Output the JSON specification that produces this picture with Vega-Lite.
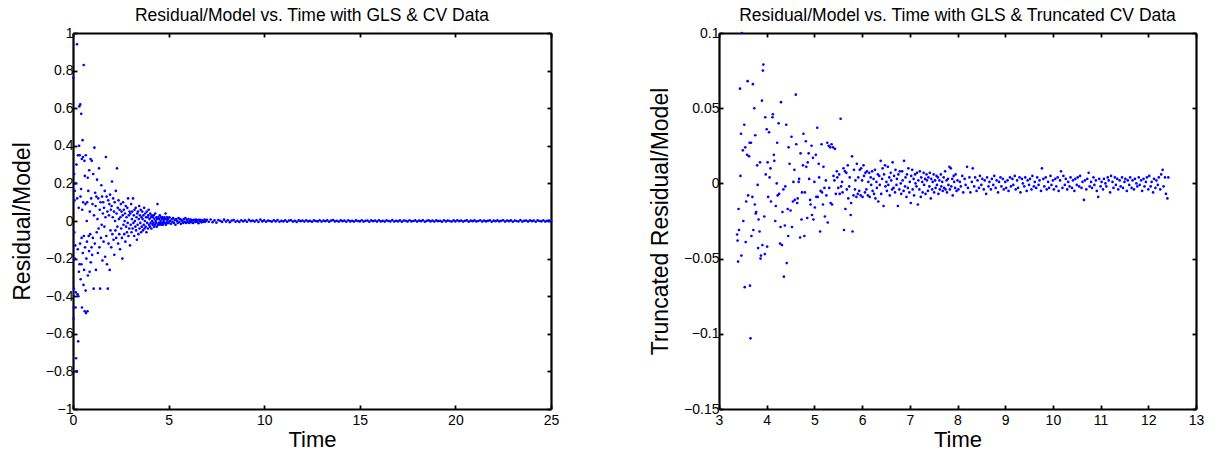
{
  "$schema": "https://vega.github.io/schema/vega-lite/v6.json",
  "background": "white",
  "padding": {"left": 11, "top": 6, "right": 5, "bottom": 0},
  "spacing": 90,
  "config": {
    "view": {"stroke": null},
    "axis": {
      "domain": true, "domainColor": "black", "domainWidth": 2.2, "grid": false,
      "tickSize": -4, "tickColor": "black", "tickWidth": 1.8,
      "labelFont": "Liberation Sans", "labelFontSize": 14, "labelColor": "black",
      "labelPadding": 4, "labelFlush": false, "labelOverlap": false,
      "titleFont": "Liberation Sans", "titleFontSize": 23, "titleFontWeight": "normal", "titleColor": "black"
    },
    "axisBottom": {"labelPadding": 8, "titleFontSize": 22},
    "title": {"font": "Liberation Sans", "fontSize": 17.5, "fontWeight": "normal", "color": "black", "anchor": "middle", "frame": "group", "offset": 2}
  },
  "datasets": {
    "full": [
      {"t":0.02,"r":0.76},{"t":0.03,"r":-0.52},{"t":0.04,"r":-0.46},{"t":0.05,"r":-0.36},{"t":0.06,"r":0.25},{"t":0.07,"r":-0.06},{"t":0.08,"r":0.11},{"t":0.09,"r":0.16},{"t":0.1,"r":-0.2},{"t":0.12,"r":-0.13},{"t":0.13,"r":0.2},{"t":0.14,"r":-0.46},{"t":0.15,"r":-0.38},{"t":0.16,"r":-0.73},{"t":0.18,"r":0.3},{"t":0.19,"r":-0.8},{"t":0.2,"r":-0.8},{"t":0.21,"r":0.94},{"t":0.22,"r":0.12},{"t":0.24,"r":-0.39},{"t":0.25,"r":-0.15},{"t":0.26,"r":0.35},{"t":0.27,"r":-0.64},{"t":0.28,"r":-0.4},{"t":0.3,"r":0.07},{"t":0.31,"r":-0.27},{"t":0.32,"r":0.4},{"t":0.33,"r":0.61},{"t":0.34,"r":-0.23},{"t":0.35,"r":0.35},{"t":0.37,"r":-0.12},{"t":0.38,"r":0.62},{"t":0.39,"r":0.13},{"t":0.4,"r":-0.31},{"t":0.42,"r":0.17},{"t":0.43,"r":0.57},{"t":0.44,"r":-0.23},{"t":0.45,"r":-0.09},{"t":0.46,"r":0.33},{"t":0.47,"r":-0.46},{"t":0.48,"r":0.06},{"t":0.5,"r":0.43},{"t":0.51,"r":-0.17},{"t":0.52,"r":0.34},{"t":0.53,"r":0.1},{"t":0.55,"r":-0.34},{"t":0.56,"r":0.83},{"t":0.57,"r":-0.08},{"t":0.58,"r":-0.26},{"t":0.6,"r":0.32},{"t":0.61,"r":-0.48},{"t":0.62,"r":0.24},{"t":0.63,"r":-0.14},{"t":0.65,"r":0.09},{"t":0.66,"r":-0.37},{"t":0.67,"r":0.35},{"t":0.68,"r":-0.49},{"t":0.7,"r":-0.2},{"t":0.72,"r":0.0},{"t":0.73,"r":-0.11},{"t":0.74,"r":0.1},{"t":0.76,"r":-0.48},{"t":0.77,"r":0.23},{"t":0.78,"r":-0.29},{"t":0.8,"r":0.16},{"t":0.82,"r":-0.08},{"t":0.84,"r":-0.16},{"t":0.85,"r":0.27},{"t":0.87,"r":-0.27},{"t":0.88,"r":0.05},{"t":0.9,"r":-0.07},{"t":0.92,"r":0.33},{"t":0.93,"r":-0.22},{"t":0.95,"r":0.12},{"t":0.97,"r":-0.14},{"t":0.98,"r":0.32},
      {"t":1.0,"r":-0.18},{"t":1.02,"r":0.09},{"t":1.04,"r":-0.09},{"t":1.06,"r":0.25},{"t":1.08,"r":-0.36},{"t":1.1,"r":0.03},{"t":1.12,"r":0.39},{"t":1.14,"r":-0.12},{"t":1.16,"r":0.15},{"t":1.18,"r":0.08},{"t":1.2,"r":-0.26},{"t":1.22,"r":0.13},{"t":1.24,"r":-0.06},{"t":1.26,"r":0.22},{"t":1.28,"r":0.01},{"t":1.3,"r":-0.17},{"t":1.32,"r":0.12},{"t":1.34,"r":-0.04},{"t":1.36,"r":0.28},{"t":1.38,"r":-0.14},{"t":1.4,"r":0.06},{"t":1.42,"r":-0.36},{"t":1.44,"r":0.1},{"t":1.46,"r":-0.09},{"t":1.48,"r":0.19},{"t":1.5,"r":-0.02},{"t":1.52,"r":0.13},{"t":1.54,"r":-0.21},{"t":1.56,"r":0.04},{"t":1.58,"r":0.1},{"t":1.6,"r":-0.11},{"t":1.62,"r":0.07},{"t":1.64,"r":-0.03},{"t":1.66,"r":0.16},{"t":1.68,"r":-0.19},{"t":1.7,"r":0.02},{"t":1.72,"r":0.34},{"t":1.74,"r":-0.08},{"t":1.76,"r":0.13},{"t":1.78,"r":-0.23},{"t":1.8,"r":0.05},{"t":1.82,"r":-0.36},{"t":1.84,"r":0.11},{"t":1.86,"r":-0.12},{"t":1.88,"r":0.03},{"t":1.9,"r":0.09},{"t":1.92,"r":-0.26},{"t":1.94,"r":0.14},{"t":1.96,"r":-0.05},{"t":1.98,"r":0.06},
      {"t":2.0,"r":-0.14},{"t":2.02,"r":0.08},{"t":2.04,"r":0.21},{"t":2.06,"r":-0.07},{"t":2.08,"r":0.02},{"t":2.1,"r":0.12},{"t":2.12,"r":-0.1},{"t":2.14,"r":0.05},{"t":2.16,"r":-0.18},{"t":2.18,"r":0.1},{"t":2.2,"r":0.0},{"t":2.22,"r":-0.05},{"t":2.24,"r":0.16},{"t":2.26,"r":-0.09},{"t":2.28,"r":0.04},{"t":2.3,"r":0.28},{"t":2.32,"r":-0.03},{"t":2.34,"r":0.07},{"t":2.36,"r":-0.12},{"t":2.38,"r":0.11},{"t":2.4,"r":0.01},{"t":2.42,"r":-0.07},{"t":2.44,"r":0.06},{"t":2.46,"r":-0.15},{"t":2.48,"r":0.02},{"t":2.5,"r":0.09},{"t":2.52,"r":-0.04},{"t":2.54,"r":0.05},{"t":2.56,"r":-0.09},{"t":2.58,"r":-0.2},{"t":2.6,"r":0.03},{"t":2.62,"r":0.1},{"t":2.64,"r":-0.02},{"t":2.66,"r":0.06},{"t":2.68,"r":-0.07},{"t":2.7,"r":0.0},{"t":2.72,"r":0.04},{"t":2.74,"r":-0.11},{"t":2.76,"r":0.08},{"t":2.78,"r":-0.03},{"t":2.8,"r":0.02},{"t":2.82,"r":-0.06},{"t":2.84,"r":0.07},{"t":2.86,"r":-0.01},{"t":2.88,"r":0.12},{"t":2.9,"r":-0.08},{"t":2.92,"r":0.03},{"t":2.94,"r":-0.04},{"t":2.96,"r":0.05},{"t":2.98,"r":-0.13},
      {"t":3.0,"r":0.04},{"t":3.02,"r":-0.02},{"t":3.04,"r":0.09},{"t":3.06,"r":-0.06},{"t":3.08,"r":0.01},{"t":3.1,"r":0.05},{"t":3.12,"r":-0.04},{"t":3.14,"r":0.12},{"t":3.16,"r":-0.01},{"t":3.18,"r":0.03},{"t":3.2,"r":-0.08},{"t":3.22,"r":0.06},{"t":3.24,"r":0.0},{"t":3.26,"r":-0.03},{"t":3.28,"r":0.07},{"t":3.3,"r":-0.05},{"t":3.32,"r":0.02},{"t":3.34,"r":-0.1},{"t":3.36,"r":0.04},{"t":3.38,"r":-0.02},{"t":3.4,"r":0.05},{"t":3.42,"r":-0.07},{"t":3.44,"r":0.01},{"t":3.46,"r":0.08},{"t":3.48,"r":-0.04},{"t":3.5,"r":0.03},{"t":3.52,"r":-0.01},{"t":3.54,"r":0.06},{"t":3.56,"r":-0.06},{"t":3.58,"r":0.02},{"t":3.6,"r":-0.03},{"t":3.62,"r":0.05},{"t":3.64,"r":0.01},{"t":3.66,"r":-0.05},{"t":3.68,"r":0.03},{"t":3.7,"r":-0.02},{"t":3.72,"r":0.07},{"t":3.74,"r":-0.04},{"t":3.76,"r":0.0},{"t":3.78,"r":0.04},{"t":3.8,"r":-0.03},{"t":3.82,"r":0.02},{"t":3.84,"r":-0.06},{"t":3.86,"r":0.05},{"t":3.88,"r":-0.01},{"t":3.9,"r":0.02},{"t":3.92,"r":-0.04},{"t":3.94,"r":0.03},{"t":3.96,"r":0.06},{"t":3.98,"r":-0.02},
      {"t":4.0,"r":0.01},{"t":4.02,"r":-0.03},{"t":4.04,"r":0.04},{"t":4.06,"r":-0.01},{"t":4.08,"r":0.02},{"t":4.1,"r":-0.04},{"t":4.12,"r":0.03},{"t":4.14,"r":0.0},{"t":4.16,"r":-0.02},{"t":4.18,"r":0.02},{"t":4.2,"r":-0.01},{"t":4.22,"r":0.03},{"t":4.24,"r":-0.03},{"t":4.26,"r":0.01},{"t":4.28,"r":-0.02},{"t":4.3,"r":0.04},{"t":4.32,"r":0.0},{"t":4.34,"r":-0.01},{"t":4.36,"r":0.02},{"t":4.38,"r":-0.03},{"t":4.4,"r":0.01},{"t":4.42,"r":0.09},{"t":4.44,"r":-0.02},{"t":4.46,"r":0.02},{"t":4.48,"r":-0.01},{"t":4.5,"r":0.01},{"t":4.52,"r":-0.02},{"t":4.54,"r":0.03},{"t":4.56,"r":-0.01},{"t":4.58,"r":0.0},{"t":4.6,"r":0.02},{"t":4.62,"r":-0.02},{"t":4.64,"r":0.01},{"t":4.66,"r":-0.01},{"t":4.68,"r":0.02},{"t":4.7,"r":-0.02},{"t":4.72,"r":0.01},{"t":4.74,"r":0.0},{"t":4.76,"r":-0.01},{"t":4.78,"r":0.02},{"t":4.8,"r":-0.01},{"t":4.82,"r":0.01},{"t":4.84,"r":0.04},{"t":4.86,"r":-0.02},{"t":4.88,"r":0.01},{"t":4.9,"r":-0.01},{"t":4.92,"r":0.02},{"t":4.94,"r":0.0},{"t":4.96,"r":-0.01},{"t":4.98,"r":0.01},
      {"t":5.0,"r":-0.01},{"t":5.04,"r":0.02},{"t":5.08,"r":0.0},{"t":5.12,"r":-0.015},{"t":5.16,"r":0.01},{"t":5.2,"r":-0.005},{"t":5.24,"r":0.015},{"t":5.28,"r":-0.01},{"t":5.32,"r":0.005},{"t":5.36,"r":-0.02},{"t":5.4,"r":0.01},{"t":5.44,"r":0.0},{"t":5.48,"r":-0.01},{"t":5.52,"r":0.015},{"t":5.56,"r":-0.005},{"t":5.6,"r":0.01},{"t":5.64,"r":-0.015},{"t":5.68,"r":0.005},{"t":5.72,"r":0.0},{"t":5.76,"r":-0.01},{"t":5.8,"r":0.01},{"t":5.84,"r":-0.005},{"t":5.88,"r":0.015},{"t":5.92,"r":-0.01},{"t":5.96,"r":0.005},{"t":6.0,"r":-0.005},{"t":6.04,"r":0.01},{"t":6.08,"r":-0.01},{"t":6.12,"r":0.0},{"t":6.16,"r":0.008},{"t":6.2,"r":-0.006},{"t":6.24,"r":0.004},{"t":6.28,"r":-0.01},{"t":6.32,"r":0.006},{"t":6.36,"r":0.0},{"t":6.4,"r":-0.005},{"t":6.44,"r":0.008},{"t":6.48,"r":-0.004},{"t":6.52,"r":0.003},{"t":6.56,"r":-0.012},{"t":6.6,"r":0.006},{"t":6.64,"r":-0.002},{"t":6.68,"r":0.005},{"t":6.72,"r":-0.007},{"t":6.76,"r":0.004},{"t":6.8,"r":0.0},{"t":6.84,"r":-0.005},{"t":6.88,"r":0.007},{"t":6.92,"r":-0.003},{"t":6.96,"r":0.002},
      {"t":7.0,"r":0.006},{"t":7.1,"r":-0.004},{"t":7.2,"r":0.008},{"t":7.3,"r":-0.006},{"t":7.4,"r":0.003},{"t":7.5,"r":-0.009},{"t":7.6,"r":0.005},{"t":7.7,"r":0.001},{"t":7.8,"r":-0.005},{"t":7.9,"r":0.007},{"t":8.0,"r":-0.003},{"t":8.1,"r":0.004},{"t":8.2,"r":-0.006},{"t":8.3,"r":0.002},{"t":8.4,"r":0.005},{"t":8.5,"r":-0.004},{"t":8.6,"r":0.001},{"t":8.7,"r":-0.005},{"t":8.8,"r":0.004},{"t":8.9,"r":-0.002},{"t":9.0,"r":0.003},{"t":9.1,"r":-0.004},{"t":9.2,"r":0.006},{"t":9.3,"r":-0.001},{"t":9.4,"r":0.002},{"t":9.5,"r":-0.003},{"t":9.6,"r":0.004},{"t":9.7,"r":-0.005},{"t":9.8,"r":0.007},{"t":9.9,"r":-0.002},{"t":10.0,"r":0.003},{"t":10.1,"r":-0.004},{"t":10.2,"r":0.002},{"t":10.3,"r":0.0},{"t":10.4,"r":-0.003},{"t":10.5,"r":0.004},{"t":10.6,"r":-0.002},{"t":10.7,"r":0.005},{"t":10.8,"r":-0.004},{"t":10.9,"r":0.001},{"t":11.0,"r":-0.002},{"t":11.1,"r":0.003},{"t":11.2,"r":-0.004},{"t":11.3,"r":0.002},{"t":11.4,"r":0.004},{"t":11.5,"r":-0.003},{"t":11.6,"r":0.001},{"t":11.7,"r":-0.005},{"t":11.8,"r":0.003},{"t":11.9,"r":-0.001},{"t":12.0,"r":0.002},{"t":12.1,"r":-0.003},{"t":12.2,"r":0.004},{"t":12.3,"r":-0.002},{"t":12.4,"r":0.001},{"t":12.5,"r":-0.004},{"t":12.6,"r":0.003},{"t":12.7,"r":0.0},{"t":12.8,"r":-0.002},{"t":12.9,"r":0.004},{"t":13.0,"r":-0.003},{"t":13.1,"r":0.002},{"t":13.2,"r":-0.001},{"t":13.3,"r":0.003},{"t":13.4,"r":-0.004},{"t":13.5,"r":0.002},{"t":13.6,"r":0.005},{"t":13.7,"r":-0.002},{"t":13.8,"r":0.001},{"t":13.9,"r":-0.003},{"t":14.0,"r":0.003},{"t":14.1,"r":-0.001},{"t":14.2,"r":0.002},{"t":14.3,"r":-0.004},{"t":14.4,"r":0.004},{"t":14.5,"r":-0.002},{"t":14.6,"r":0.001},{"t":14.7,"r":-0.003},{"t":14.8,"r":0.003},{"t":14.9,"r":0.0},{"t":15.0,"r":-0.002},{"t":15.1,"r":0.004},{"t":15.2,"r":-0.003},{"t":15.3,"r":0.001},{"t":15.4,"r":0.002},{"t":15.5,"r":-0.004},{"t":15.6,"r":0.003},{"t":15.7,"r":-0.001},{"t":15.8,"r":0.002},{"t":15.9,"r":-0.003},{"t":16.0,"r":0.004},{"t":16.1,"r":-0.002},{"t":16.2,"r":0.001},{"t":16.3,"r":-0.003},{"t":16.4,"r":0.003},{"t":16.5,"r":0.0},{"t":16.6,"r":-0.002},{"t":16.7,"r":0.005},{"t":16.8,"r":-0.003},{"t":16.9,"r":0.001},{"t":17.0,"r":-0.002},{"t":17.1,"r":0.003},{"t":17.2,"r":-0.004},{"t":17.3,"r":0.002},{"t":17.4,"r":0.001},{"t":17.5,"r":-0.003},{"t":17.6,"r":0.004},{"t":17.7,"r":-0.002},{"t":17.8,"r":0.0},{"t":17.9,"r":0.003},{"t":18.0,"r":-0.003},{"t":18.1,"r":0.002},{"t":18.2,"r":-0.001},{"t":18.3,"r":0.004},{"t":18.4,"r":-0.004},{"t":18.5,"r":0.001},{"t":18.6,"r":0.003},{"t":18.7,"r":-0.002},{"t":18.8,"r":0.002},{"t":18.9,"r":-0.003},{"t":19.0,"r":0.003},{"t":19.1,"r":-0.001},{"t":19.2,"r":0.001},{"t":19.3,"r":-0.004},{"t":19.4,"r":0.004},{"t":19.5,"r":-0.002},{"t":19.6,"r":0.002},{"t":19.7,"r":0.0},{"t":19.8,"r":-0.003},{"t":19.9,"r":0.003},{"t":20.0,"r":-0.002},{"t":20.1,"r":0.004},{"t":20.2,"r":-0.001},{"t":20.3,"r":0.002},{"t":20.4,"r":-0.003},{"t":20.5,"r":0.001},{"t":20.6,"r":0.003},{"t":20.7,"r":-0.004},{"t":20.8,"r":0.002},{"t":20.9,"r":-0.001},{"t":21.0,"r":0.003},{"t":21.1,"r":-0.002},{"t":21.2,"r":0.0},{"t":21.3,"r":0.004},{"t":21.4,"r":-0.003},{"t":21.5,"r":0.002},{"t":21.6,"r":-0.002},{"t":21.7,"r":0.001},{"t":21.8,"r":0.003},{"t":21.9,"r":-0.004},{"t":22.0,"r":0.002},{"t":22.1,"r":-0.001},{"t":22.2,"r":0.003},{"t":22.3,"r":-0.002},{"t":22.4,"r":0.001},{"t":22.5,"r":0.004},{"t":22.6,"r":-0.003},{"t":22.7,"r":0.002},{"t":22.8,"r":-0.001},{"t":22.9,"r":0.003},{"t":23.0,"r":-0.004},{"t":23.1,"r":0.002},{"t":23.2,"r":0.0},{"t":23.3,"r":-0.002},{"t":23.4,"r":0.005},{"t":23.5,"r":-0.003},{"t":23.6,"r":0.001},{"t":23.7,"r":0.002},{"t":23.8,"r":-0.003},{"t":23.9,"r":0.003},{"t":24.0,"r":-0.001},{"t":24.1,"r":0.002},{"t":24.2,"r":-0.004},{"t":24.3,"r":0.003},{"t":24.4,"r":0.0},{"t":24.5,"r":-0.002},{"t":24.6,"r":0.004},{"t":24.7,"r":-0.003},{"t":24.8,"r":0.001},{"t":24.9,"r":0.002},{"t":25.0,"r":-0.001}
    ],
    "trunc": [
      {"t":3.38,"r":-0.034},{"t":3.39,"r":-0.038},{"t":3.4,"r":-0.052},{"t":3.41,"r":-0.017},{"t":3.42,"r":-0.031},{"t":3.44,"r":0.063},{"t":3.45,"r":0.005},{"t":3.46,"r":0.033},{"t":3.47,"r":-0.048},{"t":3.48,"r":0.1},{"t":3.5,"r":0.022},{"t":3.51,"r":-0.025},{"t":3.53,"r":0.039},{"t":3.54,"r":-0.069},{"t":3.55,"r":0.024},{"t":3.56,"r":-0.039},{"t":3.57,"r":-0.012},{"t":3.59,"r":0.019},{"t":3.6,"r":0.068},{"t":3.61,"r":-0.008},{"t":3.63,"r":0.018},{"t":3.64,"r":0.027},{"t":3.65,"r":-0.068},{"t":3.66,"r":-0.103},{"t":3.67,"r":0.027},{"t":3.68,"r":-0.035},{"t":3.7,"r":-0.009},{"t":3.71,"r":0.066},{"t":3.72,"r":-0.031},{"t":3.74,"r":0.05},{"t":3.75,"r":-0.014},{"t":3.76,"r":0.032},{"t":3.77,"r":-0.02},{"t":3.78,"r":-0.019},{"t":3.8,"r":0.012},{"t":3.81,"r":-0.001},{"t":3.82,"r":-0.043},{"t":3.83,"r":-0.024},{"t":3.85,"r":-0.032},{"t":3.86,"r":0.014},{"t":3.87,"r":-0.05},{"t":3.88,"r":-0.048},{"t":3.9,"r":0.055},{"t":3.91,"r":-0.041},{"t":3.92,"r":0.075},{"t":3.93,"r":0.079},{"t":3.95,"r":-0.022},{"t":3.96,"r":-0.047},{"t":3.97,"r":0.044},{"t":3.98,"r":0.006},{"t":4.0,"r":0.036},{"t":4.01,"r":-0.042},{"t":4.02,"r":0.014},{"t":4.03,"r":-0.009},{"t":4.05,"r":0.034},{"t":4.06,"r":0.004},{"t":4.08,"r":0.01},{"t":4.09,"r":-0.012},{"t":4.12,"r":0.044},{"t":4.13,"r":0.046},{"t":4.15,"r":0.019},{"t":4.16,"r":0.015},{"t":4.18,"r":-0.025},{"t":4.19,"r":-0.015},{"t":4.21,"r":0.0},{"t":4.22,"r":0.027},{"t":4.23,"r":-0.008},{"t":4.25,"r":0.04},{"t":4.26,"r":-0.007},{"t":4.28,"r":-0.04},{"t":4.29,"r":-0.029},{"t":4.3,"r":0.054},{"t":4.32,"r":-0.041},{"t":4.33,"r":-0.019},{"t":4.35,"r":-0.004},{"t":4.36,"r":-0.062},{"t":4.38,"r":-0.028},{"t":4.39,"r":-0.002},{"t":4.41,"r":0.039},{"t":4.42,"r":-0.053},{"t":4.44,"r":-0.017},{"t":4.45,"r":-0.035},{"t":4.46,"r":0.024},{"t":4.48,"r":0.013},{"t":4.5,"r":-0.018},
      {"t":4.52,"r":0.031},{"t":4.53,"r":-0.029},{"t":4.55,"r":-0.012},{"t":4.56,"r":0.001},{"t":4.58,"r":0.009},{"t":4.59,"r":-0.011},{"t":4.61,"r":0.059},{"t":4.62,"r":0.026},{"t":4.64,"r":-0.013},{"t":4.65,"r":-0.01},{"t":4.67,"r":0.001},{"t":4.68,"r":0.003},{"t":4.7,"r":-0.036},{"t":4.71,"r":0.02},{"t":4.73,"r":-0.024},{"t":4.74,"r":-0.006},{"t":4.76,"r":0.012},{"t":4.77,"r":0.033},{"t":4.79,"r":-0.035},{"t":4.8,"r":-0.006},{"t":4.82,"r":0.028},{"t":4.83,"r":0.011},{"t":4.85,"r":-0.023},{"t":4.86,"r":0.014},{"t":4.88,"r":0.02},{"t":4.89,"r":0.003},{"t":4.91,"r":-0.011},{"t":4.92,"r":-0.014},{"t":4.94,"r":0.025},{"t":4.95,"r":-0.021},{"t":4.97,"r":0.017},{"t":4.98,"r":-0.024},{"t":5.0,"r":0.001},{"t":5.01,"r":-0.016},{"t":5.03,"r":0.019},{"t":5.04,"r":-0.009},{"t":5.06,"r":0.037},{"t":5.07,"r":-0.009},{"t":5.09,"r":0.013},{"t":5.1,"r":0.004},{"t":5.12,"r":-0.032},{"t":5.13,"r":-0.005},{"t":5.15,"r":0.026},{"t":5.16,"r":-0.006},{"t":5.18,"r":-0.014},{"t":5.19,"r":0.011},{"t":5.21,"r":-0.003},{"t":5.22,"r":-0.022},{"t":5.24,"r":0.002},{"t":5.25,"r":-0.008},{"t":5.27,"r":0.027},{"t":5.28,"r":-0.026},{"t":5.3,"r":0.025},{"t":5.31,"r":-0.003},{"t":5.33,"r":0.024},{"t":5.34,"r":-0.013},{"t":5.36,"r":0.026},{"t":5.37,"r":-0.014},{"t":5.39,"r":0.024},{"t":5.4,"r":0.005},{"t":5.42,"r":0.002},{"t":5.43,"r":0.023},{"t":5.45,"r":-0.007},{"t":5.47,"r":0.008},{"t":5.48,"r":0.004},{"t":5.5,"r":-0.003},
      {"t":5.52,"r":0.006},{"t":5.53,"r":-0.007},{"t":5.55,"r":0.043},{"t":5.56,"r":-0.002},{"t":5.58,"r":0.001},{"t":5.59,"r":-0.006},{"t":5.61,"r":0.01},{"t":5.62,"r":-0.031},{"t":5.64,"r":0.008},{"t":5.65,"r":-0.017},{"t":5.67,"r":0.007},{"t":5.68,"r":-0.004},{"t":5.7,"r":0.012},{"t":5.71,"r":-0.01},{"t":5.73,"r":-0.002},{"t":5.74,"r":0.004},{"t":5.76,"r":-0.021},{"t":5.77,"r":-0.013},{"t":5.79,"r":0.018},{"t":5.8,"r":-0.032},{"t":5.82,"r":-0.008},{"t":5.83,"r":0.009},{"t":5.85,"r":-0.004},{"t":5.86,"r":0.002},{"t":5.88,"r":-0.009},{"t":5.89,"r":0.013},{"t":5.91,"r":-0.007},{"t":5.92,"r":0.004},{"t":5.94,"r":-0.005},{"t":5.95,"r":0.009},{"t":5.97,"r":-0.008},{"t":5.98,"r":0.01},{"t":6.0,"r":0.002},{"t":6.01,"r":-0.009},{"t":6.03,"r":0.012},{"t":6.04,"r":0.005},{"t":6.06,"r":-0.006},{"t":6.07,"r":0.007},{"t":6.09,"r":-0.004},{"t":6.1,"r":0.008},{"t":6.12,"r":-0.008},{"t":6.13,"r":0.001},{"t":6.15,"r":0.007},{"t":6.16,"r":-0.009},{"t":6.18,"r":0.004},{"t":6.19,"r":-0.001},{"t":6.21,"r":0.008},{"t":6.22,"r":-0.005},{"t":6.24,"r":0.003},{"t":6.25,"r":-0.007},{"t":6.27,"r":0.009},{"t":6.28,"r":-0.01},{"t":6.3,"r":0.001},{"t":6.31,"r":-0.003},{"t":6.33,"r":0.006},{"t":6.34,"r":-0.012},{"t":6.36,"r":0.005},{"t":6.37,"r":-0.001},{"t":6.39,"r":0.015},{"t":6.4,"r":-0.007},{"t":6.42,"r":0.003},{"t":6.43,"r":0.01},{"t":6.45,"r":-0.015},{"t":6.46,"r":0.006},{"t":6.48,"r":0.012},{"t":6.49,"r":-0.002},
      {"t":6.51,"r":0.001},{"t":6.52,"r":-0.005},{"t":6.54,"r":0.011},{"t":6.55,"r":-0.001},{"t":6.57,"r":0.004},{"t":6.58,"r":-0.008},{"t":6.6,"r":0.007},{"t":6.61,"r":0.002},{"t":6.63,"r":-0.004},{"t":6.64,"r":0.014},{"t":6.66,"r":-0.003},{"t":6.67,"r":0.005},{"t":6.69,"r":-0.006},{"t":6.7,"r":0.009},{"t":6.72,"r":-0.001},{"t":6.73,"r":0.003},{"t":6.75,"r":-0.015},{"t":6.76,"r":0.006},{"t":6.78,"r":-0.004},{"t":6.79,"r":0.008},{"t":6.81,"r":0.0},{"t":6.82,"r":-0.007},{"t":6.84,"r":0.008},{"t":6.85,"r":0.002},{"t":6.87,"r":-0.005},{"t":6.88,"r":0.015},{"t":6.9,"r":-0.002},{"t":6.91,"r":0.004},{"t":6.93,"r":-0.009},{"t":6.94,"r":0.006},{"t":6.96,"r":-0.003},{"t":6.97,"r":0.01},{"t":6.99,"r":-0.006},{"t":7.0,"r":0.001},{"t":7.02,"r":-0.013},{"t":7.03,"r":0.005},{"t":7.05,"r":0.009},{"t":7.06,"r":-0.004},{"t":7.08,"r":0.003},{"t":7.09,"r":-0.008},{"t":7.11,"r":0.006},{"t":7.12,"r":0.0},{"t":7.14,"r":-0.002},{"t":7.15,"r":0.007},{"t":7.17,"r":-0.014},{"t":7.18,"r":0.002},{"t":7.2,"r":-0.004},{"t":7.21,"r":0.008},{"t":7.23,"r":-0.009},{"t":7.24,"r":0.004},{"t":7.26,"r":0.001},{"t":7.27,"r":-0.006},{"t":7.29,"r":0.007},{"t":7.3,"r":-0.001},{"t":7.32,"r":0.003},{"t":7.33,"r":-0.007},{"t":7.35,"r":0.006},{"t":7.36,"r":0.002},{"t":7.38,"r":-0.005},{"t":7.39,"r":0.004},{"t":7.41,"r":-0.002},{"t":7.42,"r":0.007},{"t":7.44,"r":-0.01},{"t":7.45,"r":0.003},{"t":7.47,"r":-0.004},{"t":7.48,"r":0.001},{"t":7.5,"r":0.006},{"t":7.51,"r":-0.006},{"t":7.53,"r":0.002},{"t":7.54,"r":-0.003},{"t":7.56,"r":0.005},{"t":7.57,"r":-0.001},{"t":7.59,"r":0.004},{"t":7.6,"r":-0.007},{"t":7.62,"r":0.002},{"t":7.63,"r":-0.004},{"t":7.65,"r":0.006},{"t":7.66,"r":-0.002},{"t":7.68,"r":0.001},{"t":7.69,"r":-0.005},{"t":7.71,"r":0.004},{"t":7.72,"r":-0.003},{"t":7.74,"r":0.008},{"t":7.75,"r":-0.004},{"t":7.77,"r":0.002},{"t":7.78,"r":-0.006},{"t":7.8,"r":0.003},{"t":7.81,"r":-0.001},{"t":7.83,"r":0.011},{"t":7.84,"r":-0.004},{"t":7.86,"r":0.01},{"t":7.87,"r":-0.002},{"t":7.89,"r":0.003},{"t":7.9,"r":-0.008},{"t":7.92,"r":0.005},{"t":7.93,"r":0.001},{"t":7.95,"r":-0.003},{"t":7.96,"r":0.006},{"t":7.98,"r":-0.005},
      {"t":8.0,"r":0.002},{"t":8.02,"r":-0.004},{"t":8.05,"r":0.001},{"t":8.07,"r":-0.002},{"t":8.1,"r":0.005},{"t":8.12,"r":-0.006},{"t":8.15,"r":0.003},{"t":8.17,"r":-0.001},{"t":8.2,"r":0.011},{"t":8.22,"r":-0.003},{"t":8.25,"r":0.004},{"t":8.27,"r":-0.006},{"t":8.3,"r":0.001},{"t":8.32,"r":0.01},{"t":8.35,"r":-0.002},{"t":8.37,"r":0.004},{"t":8.4,"r":-0.005},{"t":8.42,"r":0.002},{"t":8.45,"r":-0.003},{"t":8.47,"r":0.005},{"t":8.5,"r":-0.001},{"t":8.52,"r":0.003},{"t":8.55,"r":-0.004},{"t":8.57,"r":0.002},{"t":8.6,"r":-0.007},{"t":8.62,"r":0.004},{"t":8.65,"r":-0.002},{"t":8.67,"r":0.001},{"t":8.7,"r":-0.004},{"t":8.72,"r":0.003},{"t":8.75,"r":-0.001},{"t":8.77,"r":0.005},{"t":8.8,"r":-0.003},{"t":8.82,"r":0.002},{"t":8.85,"r":-0.006},{"t":8.87,"r":0.001},{"t":8.9,"r":0.004},{"t":8.92,"r":-0.002},{"t":8.95,"r":0.003},{"t":8.97,"r":-0.004},{"t":9.0,"r":0.001},{"t":9.02,"r":-0.003},{"t":9.05,"r":0.002},{"t":9.07,"r":-0.005},{"t":9.1,"r":0.004},{"t":9.12,"r":-0.002},{"t":9.15,"r":0.003},{"t":9.17,"r":-0.001},{"t":9.2,"r":0.005},{"t":9.22,"r":-0.004},{"t":9.25,"r":0.002},{"t":9.27,"r":-0.003},{"t":9.3,"r":0.004},{"t":9.32,"r":-0.006},{"t":9.35,"r":0.003},{"t":9.37,"r":0.0},{"t":9.4,"r":-0.002},{"t":9.42,"r":0.004},{"t":9.45,"r":-0.005},{"t":9.47,"r":0.002},{"t":9.5,"r":-0.001},{"t":9.52,"r":0.003},{"t":9.55,"r":-0.004},{"t":9.57,"r":0.005},{"t":9.6,"r":-0.002},{"t":9.62,"r":0.001},{"t":9.65,"r":-0.003},{"t":9.67,"r":0.004},{"t":9.7,"r":-0.001},{"t":9.72,"r":0.002},{"t":9.75,"r":-0.005},{"t":9.77,"r":0.01},{"t":9.8,"r":0.003},{"t":9.82,"r":-0.002},{"t":9.85,"r":0.004},{"t":9.87,"r":-0.004},{"t":9.9,"r":0.001},{"t":9.92,"r":-0.003},{"t":9.95,"r":0.005},{"t":9.97,"r":-0.001},{"t":10.0,"r":0.002},{"t":10.02,"r":-0.004},{"t":10.05,"r":0.003},{"t":10.07,"r":-0.002},{"t":10.1,"r":0.004},{"t":10.12,"r":-0.005},{"t":10.15,"r":0.002},{"t":10.17,"r":0.008},{"t":10.2,"r":-0.003},{"t":10.22,"r":0.005},{"t":10.25,"r":-0.001},{"t":10.27,"r":0.003},{"t":10.3,"r":-0.004},{"t":10.32,"r":0.001},{"t":10.35,"r":-0.002},{"t":10.37,"r":0.004},{"t":10.4,"r":-0.003},{"t":10.42,"r":0.002},{"t":10.45,"r":-0.005},{"t":10.47,"r":0.003},{"t":10.5,"r":-0.001},{"t":10.52,"r":0.004},{"t":10.55,"r":-0.002},{"t":10.57,"r":0.005},{"t":10.6,"r":-0.003},{"t":10.62,"r":0.001},{"t":10.65,"r":-0.011},{"t":10.67,"r":0.002},{"t":10.7,"r":-0.004},{"t":10.72,"r":0.003},{"t":10.75,"r":0.007},{"t":10.77,"r":-0.002},{"t":10.8,"r":0.001},{"t":10.82,"r":-0.003},{"t":10.85,"r":0.004},{"t":10.87,"r":-0.001},{"t":10.9,"r":0.002},{"t":10.92,"r":-0.005},{"t":10.95,"r":-0.009},{"t":10.97,"r":0.003},{"t":11.0,"r":-0.002},{"t":11.02,"r":0.001},{"t":11.05,"r":-0.004},{"t":11.07,"r":0.003},{"t":11.1,"r":0.0},{"t":11.12,"r":-0.002},{"t":11.15,"r":0.004},{"t":11.17,"r":0.002},{"t":11.2,"r":-0.006},{"t":11.22,"r":0.005},{"t":11.25,"r":0.001},{"t":11.27,"r":-0.003},{"t":11.3,"r":0.004},{"t":11.32,"r":-0.001},{"t":11.35,"r":0.003},{"t":11.37,"r":-0.004},{"t":11.4,"r":0.002},{"t":11.42,"r":-0.002},{"t":11.45,"r":0.004},{"t":11.47,"r":-0.003},{"t":11.5,"r":0.001},{"t":11.52,"r":0.003},{"t":11.55,"r":-0.005},{"t":11.57,"r":0.002},{"t":11.6,"r":-0.001},{"t":11.62,"r":0.004},{"t":11.65,"r":-0.003},{"t":11.67,"r":0.002},{"t":11.7,"r":-0.004},{"t":11.72,"r":0.003},{"t":11.75,"r":0.0},{"t":11.77,"r":-0.002},{"t":11.8,"r":0.004},{"t":11.82,"r":-0.001},{"t":11.85,"r":0.002},{"t":11.87,"r":-0.005},{"t":11.9,"r":0.003},{"t":11.92,"r":-0.002},{"t":11.95,"r":0.001},{"t":11.97,"r":0.004},{"t":12.0,"r":-0.004},{"t":12.02,"r":0.005},{"t":12.05,"r":-0.002},{"t":12.07,"r":0.001},{"t":12.1,"r":-0.006},{"t":12.12,"r":0.003},{"t":12.15,"r":-0.003},{"t":12.17,"r":0.002},{"t":12.2,"r":-0.001},{"t":12.22,"r":0.004},{"t":12.25,"r":-0.004},{"t":12.27,"r":0.006},{"t":12.3,"r":0.009},{"t":12.32,"r":-0.002},{"t":12.35,"r":0.004},{"t":12.37,"r":-0.007},{"t":12.4,"r":-0.01},{"t":12.42,"r":0.004}
    ]
  },
  "hconcat": [
    {
      "title": {"text": "Residual/Model vs. Time with GLS & CV Data"},
      "data": {"name": "full"},
      "width": 478,
      "height": 376,
      "layer": [
        {
          "mark": {"type": "circle", "size": 7, "color": "#0000ff", "opacity": 1},
          "encoding": {
            "x": {"field": "t", "type": "quantitative", "scale": {"domain": [0, 25], "nice": false, "zero": false},
                  "axis": {"orient": "bottom", "values": [0, 5, 10, 15, 20, 25], "format": ".2~g", "title": "Time", "titlePadding": 2}},
            "y": {"field": "r", "type": "quantitative", "scale": {"domain": [-1, 1], "nice": false, "zero": false},
                  "axis": {"orient": "left", "values": [-1, -0.8, -0.6, -0.4, -0.2, 0, 0.2, 0.4, 0.6, 0.8, 1], "format": ".2~g", "title": "Residual/Model", "titlePadding": 11}}
          }
        },
        {
          "mark": {"type": "circle", "size": 7, "opacity": 0},
          "encoding": {
            "x": {"field": "t", "type": "quantitative",
                  "axis": {"orient": "top", "values": [0, 5, 10, 15, 20, 25], "labels": false, "title": null}},
            "y": {"field": "r", "type": "quantitative",
                  "axis": {"orient": "right", "values": [-1, -0.8, -0.6, -0.4, -0.2, 0, 0.2, 0.4, 0.6, 0.8, 1], "labels": false, "title": null}}
          }
        }
      ],
      "resolve": {"axis": {"x": "independent", "y": "independent"}}
    },
    {
      "title": {"text": "Residual/Model vs. Time with GLS & Truncated CV Data"},
      "data": {"name": "trunc"},
      "width": 477,
      "height": 376,
      "layer": [
        {
          "mark": {"type": "circle", "size": 7, "color": "#0000ff", "opacity": 1},
          "encoding": {
            "x": {"field": "t", "type": "quantitative", "scale": {"domain": [3, 13], "nice": false, "zero": false},
                  "axis": {"orient": "bottom", "values": [3, 4, 5, 6, 7, 8, 9, 10, 11, 12, 13], "format": ".2~g", "title": "Time", "titlePadding": 2}},
            "y": {"field": "r", "type": "quantitative", "scale": {"domain": [-0.15, 0.1], "nice": false, "zero": false},
                  "axis": {"orient": "left", "values": [-0.15, -0.1, -0.05, 0, 0.05, 0.1], "format": ".2~g", "title": "Truncated Residual/Model", "titlePadding": 11}}
          }
        },
        {
          "mark": {"type": "circle", "size": 7, "opacity": 0},
          "encoding": {
            "x": {"field": "t", "type": "quantitative",
                  "axis": {"orient": "top", "values": [3, 4, 5, 6, 7, 8, 9, 10, 11, 12, 13], "labels": false, "title": null}},
            "y": {"field": "r", "type": "quantitative",
                  "axis": {"orient": "right", "values": [-0.15, -0.1, -0.05, 0, 0.05, 0.1], "labels": false, "title": null}}
          }
        }
      ],
      "resolve": {"axis": {"x": "independent", "y": "independent"}}
    }
  ]
}
